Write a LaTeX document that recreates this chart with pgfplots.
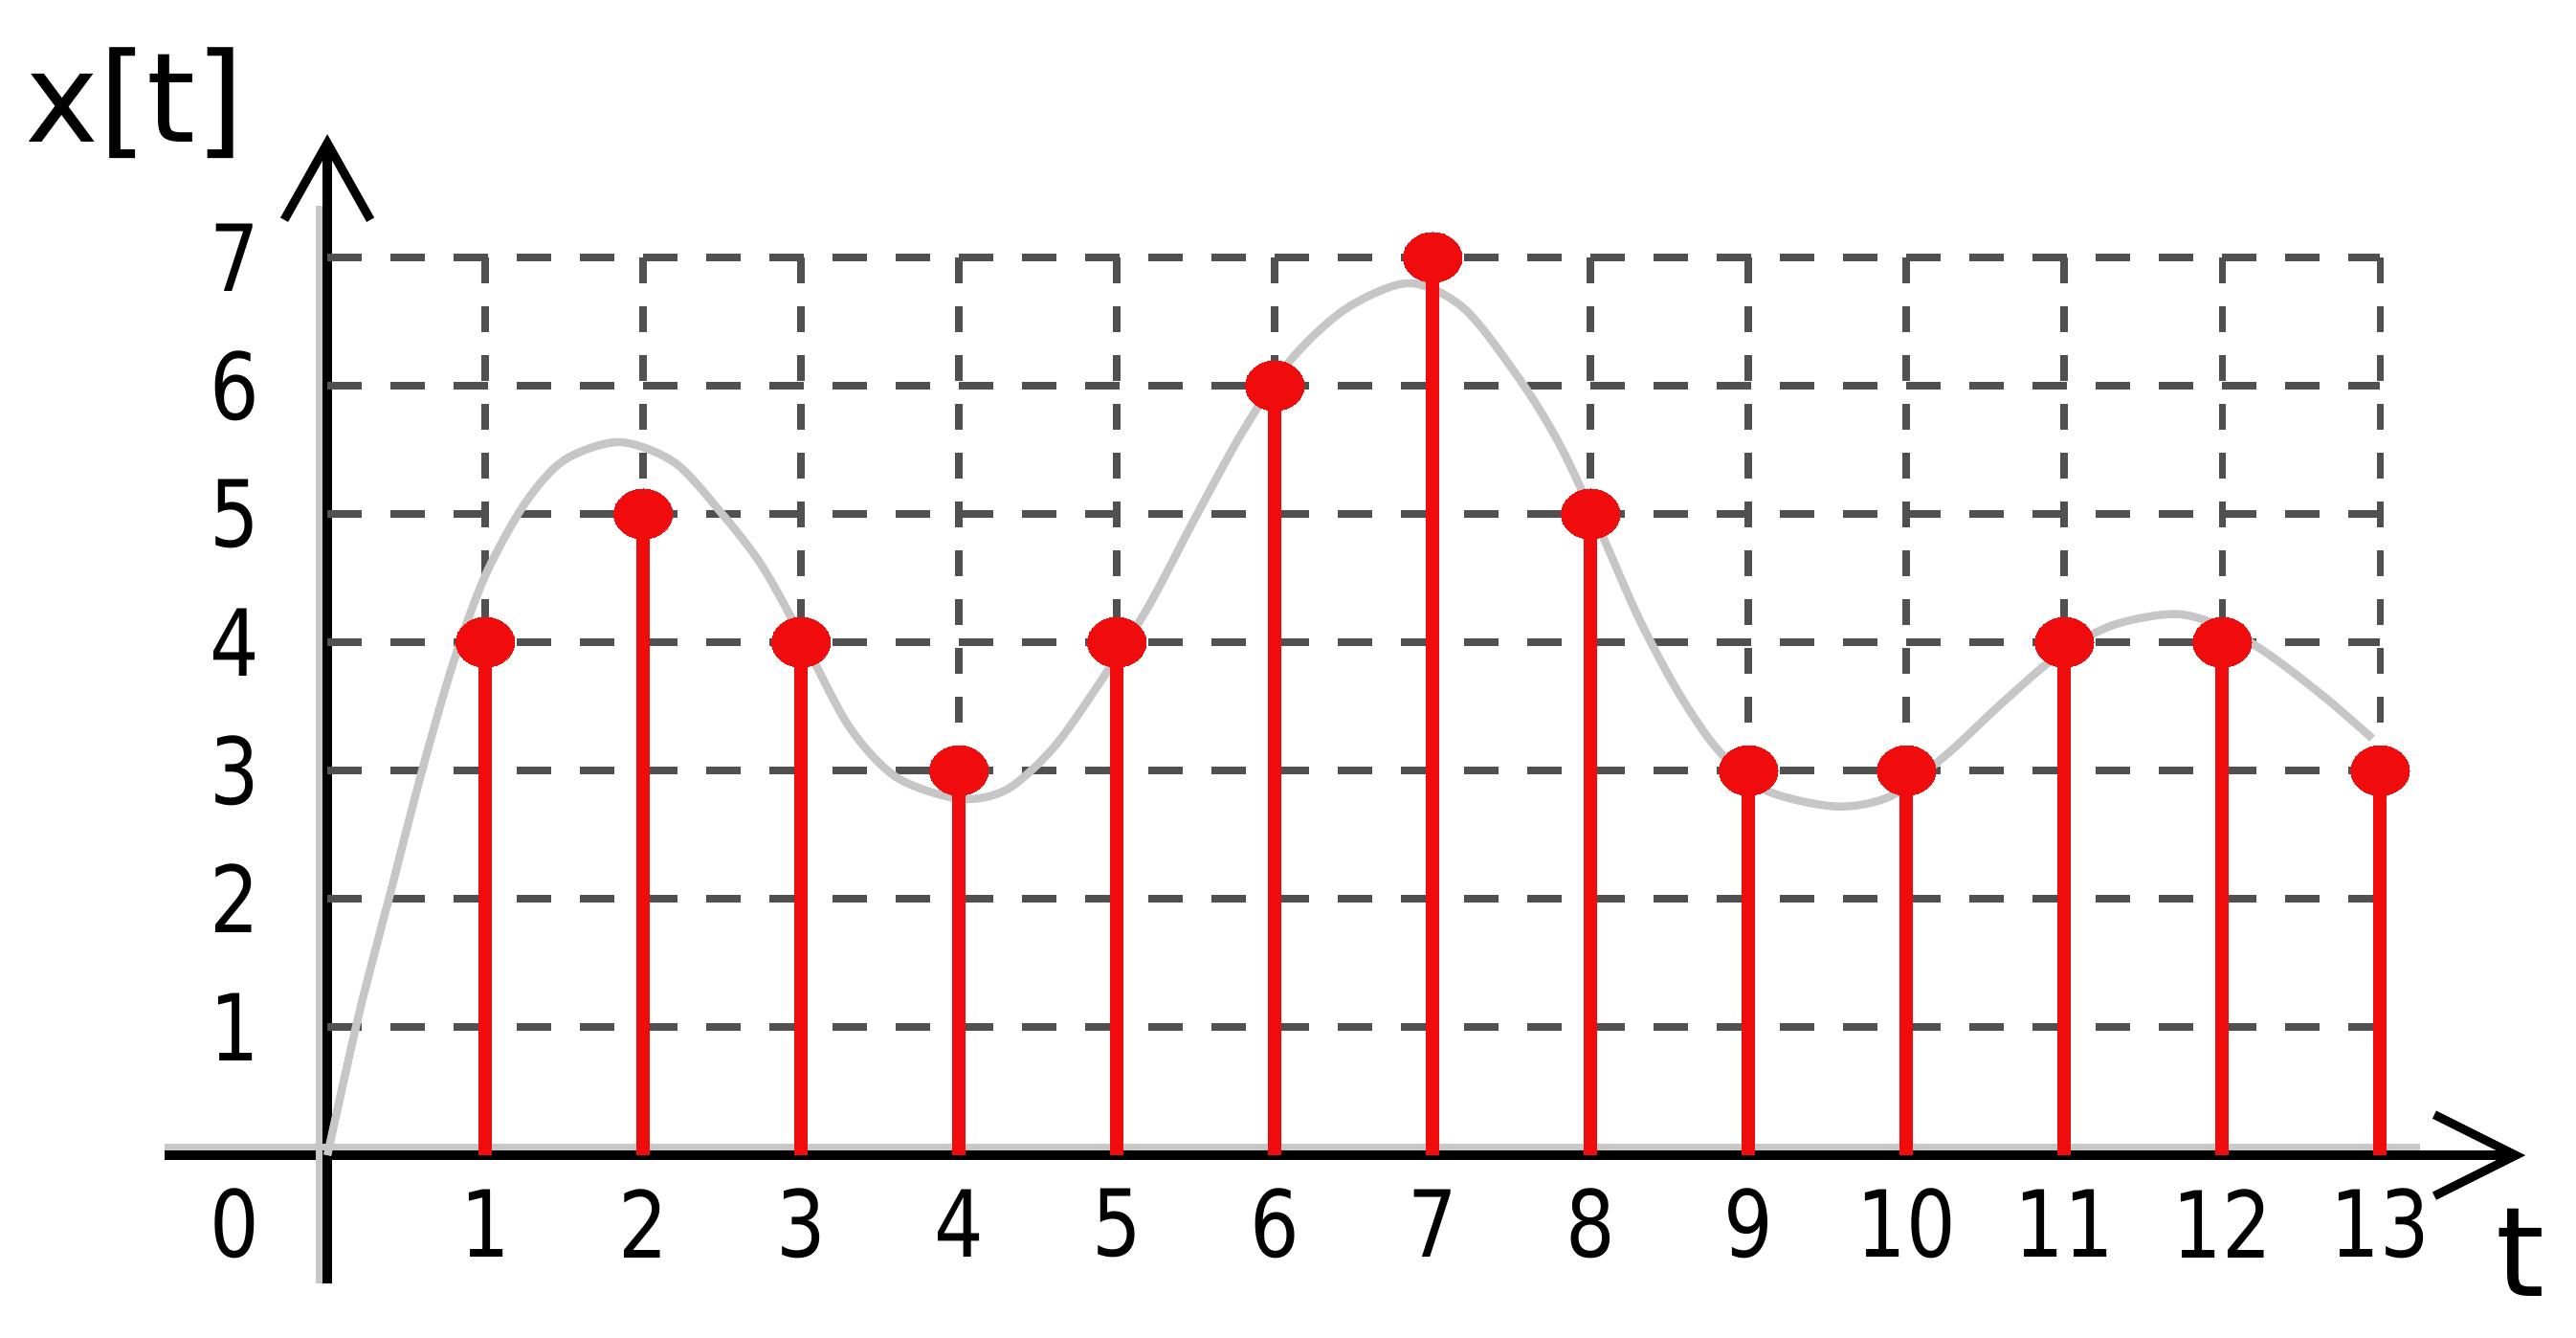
\documentclass[border=0pt]{standalone}
\usepackage{pgfplots}
\pgfplotsset{compat=1.18}
\usepackage{fontspec}
\setmainfont{DejaVu Sans}
\newfontfamily\tickfont{DejaVu Sans}[FakeStretch=0.84]
\usetikzlibrary{arrows.meta}

\definecolor{stemred}{RGB}{240,12,12}
\definecolor{gridgray}{RGB}{80,80,80}
\definecolor{curvegray}{RGB}{198,198,198}

\begin{document}
\begin{tikzpicture}
\begin{axis}[
    x=1.65cm, y=1.34cm,
    xmin=-1.03, xmax=13.92,
    ymin=-1.0, ymax=7.96,
    axis lines=middle,
    axis line style={line width=2.9pt, black},
    every inner x axis line/.append style={-{Straight Barb[length=0.85cm,width=0.85cm,line width=2.6pt]}},
    every inner y axis line/.append style={-{Straight Barb[length=0.8cm,width=0.9cm,line width=2.6pt]}},
    xtick={1,2,...,13},
    ytick={1,2,...,7},
    major tick length=0pt,
    /pgf/number format/assume math mode=true,
    tick label style={font=\tickfont\fontsize{27.5}{32}\selectfont},
    xticklabel style={anchor=center, yshift=-0.71cm},
    yticklabel style={anchor=center, xshift=-0.97cm},
    clip=false,
]

% soft grey edge along the axes
\draw[black!22, line width=2pt] ([yshift=0.085cm]axis cs:-1.03,0) -- ([yshift=0.085cm]axis cs:13.25,0);
\draw[black!22, line width=2pt] ([xshift=-0.085cm]axis cs:0,-1.0) -- ([xshift=-0.085cm]axis cs:0,7.4);

% grid
\pgfplotsinvokeforeach{1,...,7}{
  \draw[gridgray, line width=2.2pt, dash pattern=on 0.36cm off 0.30cm]
    (axis cs:0,#1) -- (axis cs:13,#1);
}
\pgfplotsinvokeforeach{1,...,13}{
  \draw[gridgray, line width=2.2pt, dash pattern=on 0.27cm off 0.24cm]
    (axis cs:#1,7) -- (axis cs:#1,0);
}

% underlying continuous signal
\addplot[curvegray, line width=2.4pt, smooth, no marks] coordinates {
(0,0)(0.2,1.1)(0.4,2.05)(0.6,3.0)(0.8,3.85)(1.0,4.52)(1.25,5.08)(1.5,5.42)
(1.85,5.56)(2.2,5.4)(2.5,5.0)(2.75,4.6)(3.0,4.05)(3.3,3.35)(3.6,2.95)
(4.0,2.78)(4.3,2.85)(4.6,3.18)(4.9,3.7)(5.2,4.28)(5.5,4.98)(5.8,5.65)
(6.1,6.2)(6.45,6.6)(6.85,6.8)(7.2,6.6)(7.55,6.05)(7.8,5.55)(8.05,4.9)
(8.3,4.2)(8.55,3.62)(8.8,3.17)(9.1,2.85)(9.55,2.72)(9.9,2.8)(10.25,3.12)
(10.6,3.52)(10.95,3.89)(11.3,4.13)(11.7,4.22)(12.0,4.12)(12.3,3.9)
(12.65,3.57)(12.95,3.25)
};

% samples
\addplot[stemred, line width=4pt, ycomb, mark=*, mark size=7.4pt,
         mark options={xscale=1.18, fill=stemred, draw=stemred, line width=0pt}]
coordinates {
(1,4)(2,5)(3,4)(4,3)(5,4)(6,6)(7,7)(8,5)(9,3)(10,3)(11,4)(12,4)(13,3)
};

\node[font=\tickfont\fontsize{27.5}{32}\selectfont] at (axis cs:0,0) [xshift=-0.97cm, yshift=-0.71cm] {0};
\node[font=\fontsize{37}{42}\selectfont] at (axis cs:-1.22,8.2) {x[t]};
\node[font=\fontsize{37}{42}\selectfont] at (axis cs:13.89,-0.76) {t};

\path (axis cs:-2.073,-1.418) rectangle (axis cs:14.24,9.007);
\end{axis}
\end{tikzpicture}
\end{document}
